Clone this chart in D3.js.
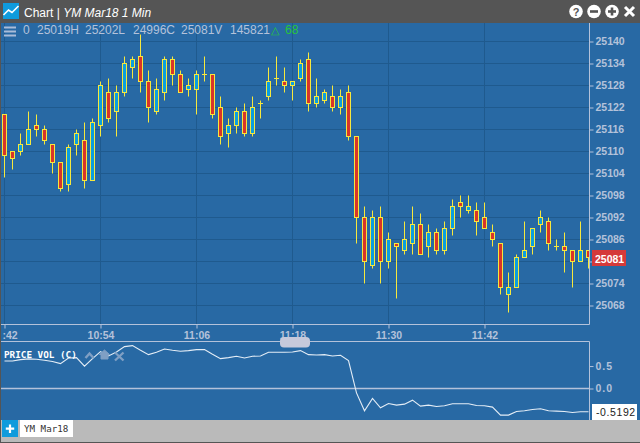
<!DOCTYPE html>
<html>
<head>
<meta charset="UTF-8">
<script src="https://d3js.org/d3.v7.min.js"></script>
<style>
    html, body { margin: 0; padding: 0; background: #555; overflow: hidden; }
    svg { display: block; }
    text { font-family: "Liberation Sans", Arial, sans-serif; }
    .mono { font-family: "DejaVu Sans Mono", monospace; }
</style>
</head>
<body>
<svg id="chart" width="640" height="443"></svg>
<script>
// price bars, one a minute from 10:42
const opens = [25120,25110,25110,25112,25117,25116,25112,25107,25101,25112,25113,25102,25117,25126,25121,25126,25133,25136,25129,25121,25126,25135,25131,25127,25127,25131,25131,25122,25115,25117,25121,25115,25123,25125,25130,25129,25128,25130,25135,25123,25124,25125,25122,25126,25114,25092,25079,25092,25080,25085,25083,25085,25090,25084,25088,25083,25089,25096,25094,25094,25092,25088,25085,25071,25073,25081,25084,25090,25091,25084,25084,25083,25080,25083];
const highs = [25120,25110,25115,25121,25120,25117,25112,25107,25112,25116,25118,25119,25129,25130,25128,25136,25136,25142,25132,25130,25136,25136,25132,25130,25132,25136,25131,25125,25119,25122,25123,25125,25124,25133,25136,25133,25129,25135,25137,25130,25127,25128,25127,25128,25114,25095,25094,25095,25088,25085,25091,25095,25093,25090,25089,25091,25097,25098,25098,25096,25096,25090,25085,25077,25082,25091,25089,25094,25092,25086,25088,25083,25091,25083];
const lows = [25103,25105,25109,25112,25114,25112,25104,25099,25099,25109,25100,25102,25114,25118,25114,25125,25130,25126,25118,25120,25124,25128,25126,25125,25120,25129,25119,25112,25111,25115,25114,25114,25119,25124,25128,25126,25124,25129,25121,25122,25123,25121,25120,25113,25085,25074,25078,25074,25078,25070,25082,25082,25082,25081,25082,25082,25087,25092,25093,25087,25089,25084,25071,25066,25073,25081,25082,25088,25083,25083,25077,25073,25080,25078];
const closes = [25109,25108,25112,25116,25116,25113,25107,25100,25111,25115,25102,25118,25128,25119,25126,25134,25135,25129,25122,25127,25135,25131,25126,25128,25131,25131,25120,25114,25117,25121,25115,25122,25123,25129,25130,25128,25129,25134,25123,25125,25126,25122,25125,25114,25092,25080,25092,25080,25086,25084,25086,25090,25082,25088,25083,25089,25095,25095,25095,25091,25089,25086,25073,25073,25081,25083,25089,25092,25085,25084,25083,25080,25083,25081];
const priceVol = [0.614,0.614,0.644,0.659,0.651,0.629,0.600,0.555,0.681,0.688,0.496,0.666,0.822,0.725,0.814,0.933,0.955,0.851,0.755,0.807,0.881,0.851,0.829,0.844,0.866,0.866,0.762,0.666,0.688,0.718,0.681,0.718,0.725,0.807,0.807,0.807,0.814,0.844,0.755,0.748,0.755,0.725,0.740,0.622,-0.097,-0.497,-0.223,-0.430,-0.334,-0.371,-0.349,-0.260,-0.393,-0.371,-0.401,-0.386,-0.341,-0.341,-0.341,-0.378,-0.386,-0.415,-0.593,-0.593,-0.512,-0.497,-0.467,-0.452,-0.497,-0.504,-0.512,-0.534,-0.519,-0.519];
const priceTicks = [25140,25134,25128,25122,25116,25110,25104,25098,25092,25086,25080,25074,25068];
const timeTicks = [0,12,24,36,48,60];
// the first label is cut by the panel edge in the original, only ":42" shows
const timeLabels = [":42","10:54","11:06","11:18","11:30","11:42"];
const volTicks = [0.5,0];

const axisColor = "#b4c2da";
const gridColor = "#1f5a8e";
const plotRight = 589.5;

const svg = d3.select("#chart");

// price scale: 25140 at y=41.5, 22px per 6 points
const x = d3.scaleLinear().domain([0, 73]).range([4.5, 588.5]);
const y = d3.scaleLinear().domain([25140, 25068]).range([41.5, 305.5]);
const yVol = d3.scaleLinear().domain([0, -0.5192]).range([388.5, 411.8]);
const snap = v => Math.round(v - 0.5) + 0.5;

// frame
svg.append("rect").attr("width", 640).attr("height", 443).attr("fill", "#555555");
svg.append("rect").attr("x", 1).attr("y", 23).attr("width", 639).attr("height", 397).attr("fill", "#2869a4");
svg.append("rect").attr("x", 1).attr("y", 420).attr("width", 639).attr("height", 22).attr("fill", "#bababa");

svg.append("defs").append("clipPath").attr("id", "plot")
    .append("rect").attr("x", 1).attr("y", 23).attr("width", 588.5).attr("height", 301);

// grid
const grid = svg.append("g").attr("stroke", gridColor).attr("stroke-width", 1);
grid.selectAll(".gy").data(priceTicks).enter().append("line")
    .attr("x1", 1).attr("x2", plotRight).attr("y1", d => snap(y(d))).attr("y2", d => snap(y(d)));
grid.selectAll(".gx").data(timeTicks).enter().append("line")
    .attr("x1", d => x(d)).attr("x2", d => x(d)).attr("y1", 23).attr("y2", 324);

// candles
const candles = svg.append("g").attr("clip-path", "url(#plot)").selectAll("g")
    .data(d3.range(opens.length)).enter().append("g");
candles.append("line")
    .attr("x1", i => x(i)).attr("x2", i => x(i))
    .attr("y1", i => snap(y(highs[i]))).attr("y2", i => snap(y(lows[i])))
    .attr("stroke", "#f7e83c").attr("stroke-width", 1);
candles.filter(i => opens[i] !== closes[i]).append("rect")
    .attr("x", i => x(i) - 2).attr("width", 4)
    .attr("y", i => snap(y(Math.max(opens[i], closes[i]))))
    .attr("height", i => snap(y(Math.min(opens[i], closes[i]))) - snap(y(Math.max(opens[i], closes[i]))))
    .attr("fill", i => closes[i] < opens[i] ? "#d8352a" : "#0b9fdf")
    .attr("stroke", "#f7e83c").attr("stroke-width", 1);
candles.filter(i => opens[i] === closes[i]).append("line")
    .attr("x1", i => x(i) - 2.5).attr("x2", i => x(i) + 2.5)
    .attr("y1", i => snap(y(opens[i]))).attr("y2", i => snap(y(opens[i])))
    .attr("stroke", "#f7e83c").attr("stroke-width", 1);

// price axis
const yAxis = svg.append("g").attr("transform", `translate(${plotRight},0)`)
    .call(d3.axisRight(y).tickValues(priceTicks).tickSize(4).tickPadding(2).tickFormat(d3.format("d")));
yAxis.select(".domain").remove();
yAxis.selectAll("line").attr("stroke", axisColor);
yAxis.selectAll("text").attr("fill", axisColor).style("font-size", "10.5px").style("font-weight", "bold")
    .style("font-family", "'Liberation Sans', Arial, sans-serif");
// 25080 sits under the last price tag
yAxis.selectAll(".tick").filter(d => d === 25080).select("text").remove();
svg.append("line").attr("x1", plotRight).attr("x2", plotRight).attr("y1", 23).attr("y2", 324.5).attr("stroke", axisColor);

// time axis
const xAxis = svg.append("g").attr("transform", "translate(0,324.5)")
    .call(d3.axisBottom(x).tickValues(timeTicks).tickSize(4).tickPadding(3).tickFormat((d, i) => timeLabels[i]));
xAxis.select(".domain").remove();
xAxis.selectAll("line").attr("stroke", axisColor);
xAxis.selectAll("text").attr("fill", axisColor).style("font-size", "10.5px").style("font-weight", "bold")
    .style("font-family", "'Liberation Sans', Arial, sans-serif");
xAxis.selectAll(".tick").filter(d => d === 0).select("text").attr("text-anchor", "start").attr("x", -2.5);
svg.append("line").attr("x1", 1).attr("x2", plotRight).attr("y1", 324.5).attr("y2", 324.5).attr("stroke", axisColor);

// indicator pane
svg.append("line").attr("x1", 1).attr("x2", plotRight).attr("y1", 341.5).attr("y2", 341.5).attr("stroke", axisColor);
svg.append("line").attr("x1", plotRight).attr("x2", plotRight).attr("y1", 341.5).attr("y2", 420).attr("stroke", axisColor);
svg.append("line").attr("x1", 1).attr("x2", plotRight).attr("y1", yVol(0)).attr("y2", yVol(0)).attr("stroke", axisColor).attr("stroke-width", 1.3);

const volAxis = svg.append("g").attr("transform", `translate(${plotRight},0)`)
    .call(d3.axisRight(yVol).tickValues(volTicks).tickSize(4).tickPadding(2).tickFormat(d3.format(".1f")));
volAxis.select(".domain").remove();
volAxis.selectAll("line").attr("stroke", axisColor);
volAxis.selectAll("text").attr("fill", axisColor).style("font-size", "10.5px").style("font-weight", "bold")
    .style("letter-spacing", "1px").style("font-family", "'Liberation Sans', Arial, sans-serif");

svg.append("path").datum(priceVol)
    .attr("fill", "none").attr("stroke", "#e4edf6").attr("stroke-width", 1.1)
    .attr("d", d3.line().x((d, i) => x(i)).y(d => yVol(d)));

svg.append("text").attr("class", "mono").attr("x", 4).attr("y", 358)
    .attr("fill", "#ffffff").style("font-size", "9.3px").style("font-weight", "bold")
    .text("PRICE VOL (C)");

// faded pane controls
const ctl = svg.append("g").attr("fill", "none").attr("stroke", "#7f9fc4").attr("stroke-width", 2.4);
ctl.append("path").attr("d", "M85.5,358 L89.5,353.5 L93.5,358");
ctl.append("path").attr("d", "M99.5,354.5 L104.5,350 L109.5,354.5 L108,354.5 L108,359 L101,359 L101,354.5 Z")
    .attr("fill", "#7f9fc4").attr("stroke-width", 1);
ctl.append("path").attr("d", "M115,352.5 L123.5,360.5 M123.5,352.5 L115,360.5");

// slider knob
svg.append("rect").attr("x", 280).attr("y", 337).attr("width", 30).attr("height", 10.5).attr("rx", 4)
    .attr("fill", "#c6c9db");

// value tags
svg.append("rect").attr("x", 592).attr("y", 250).attr("width", 34).attr("height", 16).attr("fill", "#d53a3a");
svg.append("text").attr("x", 595).attr("y", 263).attr("fill", "#ffffff")
    .style("font-size", "10.5px").style("font-weight", "bold").text("25081");
svg.append("rect").attr("x", 592).attr("y", 404).attr("width", 45).attr("height", 16).attr("fill", "#ffffff");
svg.append("text").attr("x", 596).attr("y", 416).attr("fill", "#222222")
    .style("font-size", "10.5px").style("letter-spacing", "0.6px").text("-0.5192");

// bottom tab strip
svg.append("rect").attr("x", 2).attr("y", 420).attr("width", 16).attr("height", 17).attr("fill", "#0f9bdc");
svg.append("path").attr("d", "M10,424.5 V433 M5.8,428.7 H14.2").attr("stroke", "#ffffff").attr("stroke-width", 2.2);
svg.append("rect").attr("x", 20).attr("y", 420).attr("width", 53).attr("height", 17).attr("fill", "#ffffff");
svg.append("text").attr("class", "mono").attr("x", 24).attr("y", 432).attr("fill", "#333333")
    .style("font-size", "9.2px").text("YM Mar18");

// title bar
const icon = svg.append("g");
icon.append("rect").attr("x", 3).attr("y", 3).attr("width", 16).attr("height", 16).attr("fill", "#0f9bdc");
icon.append("path").attr("d", "M3.5,15 L8.5,10 L12,12.5 L18.5,6").attr("fill", "none").attr("stroke", "#ffffff").attr("stroke-width", 1.6);

const title = svg.append("text").attr("x", 24).attr("y", 17).attr("fill", "#ffffff").style("font-size", "12px");
title.append("tspan").text("Chart | ");
title.append("tspan").style("font-style", "italic").text("YM Mar18 1 Min");

// window buttons
const btn = svg.append("g");
[[576, "?"], [594, "-"], [612, "+"]].forEach(([cx, s]) => {
    btn.append("circle").attr("cx", cx).attr("cy", 11.5).attr("r", 6.8).attr("fill", "#ffffff");
    if (s === "?") {
        btn.append("text").attr("x", cx).attr("y", 15.6).attr("text-anchor", "middle").attr("fill", "#555555")
            .style("font-size", "11px").style("font-weight", "bold").text("?");
    } else {
        btn.append("rect").attr("x", cx - 4).attr("y", 10.2).attr("width", 8).attr("height", 2.6).attr("fill", "#555555");
        if (s === "+") btn.append("rect").attr("x", cx - 1.3).attr("y", 7.5).attr("width", 2.6).attr("height", 8).attr("fill", "#555555");
    }
});
btn.append("path").attr("d", "M625,7 L634,16 M634,7 L625,16").attr("stroke", "#ffffff").attr("stroke-width", 3);

// header row
svg.append("path").attr("d", "M4,27.5 H16 M4,31.5 H16 M4,35.5 H16").attr("stroke", "#a9bcd8").attr("stroke-width", 2);
const hdr = ["0", "25019H", "25202L", "24996C", "25081V", "145821"];
const hdrX = [23, 37, 85, 133, 181, 230];
svg.append("g").selectAll("text").data(hdr).enter().append("text")
    .attr("x", (d, i) => hdrX[i]).attr("y", 34).attr("fill", "#b4c2da")
    .style("font-size", "12px").text(d => d);
svg.append("text").attr("x", 271).attr("y", 34).attr("fill", "#27c43a").style("font-size", "11px").text("\u25B3");
svg.append("text").attr("x", 285).attr("y", 34).attr("fill", "#27c43a").style("font-size", "12px").text("68");
</script>
</body>
</html>
